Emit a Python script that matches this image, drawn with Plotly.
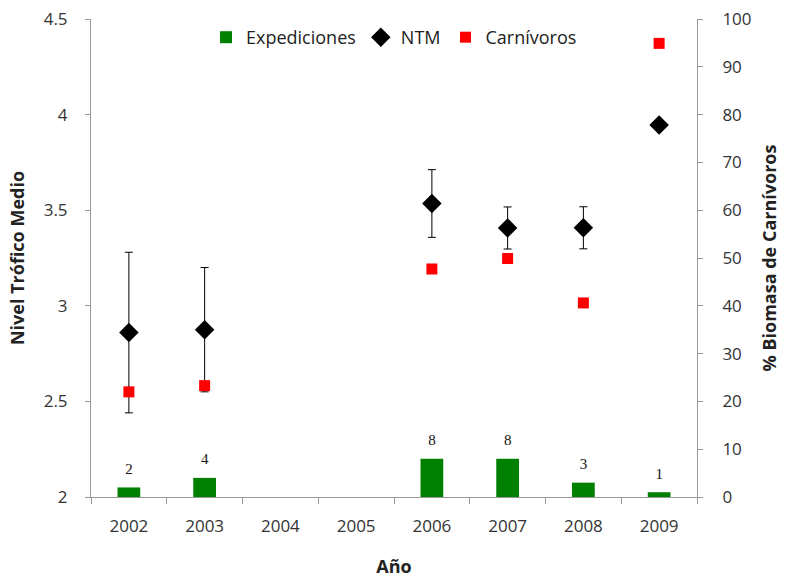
import plotly.graph_objects as go

years = ["2002", "2003", "2004", "2005", "2006", "2007", "2008", "2009"]
expediciones = [2, 4, None, None, 8, 8, 3, 1]
ntm = [2.86, 2.875, None, None, 3.535, 3.407, 3.408, 3.946]
ntm_err = [0.42, 0.325, None, None, 0.177, 0.11, 0.11, None]
carnivoros = [22.0, 23.3, None, None, 47.7, 49.9, 40.6, 94.9]

bar_text = [str(v) if v is not None else "" for v in expediciones]

fig = go.Figure()
fig.add_trace(go.Bar(
    x=years, y=expediciones, yaxis="y2", name="Expediciones",
    marker=dict(color="#008000", line=dict(width=0)), width=0.3,
))
fig.add_trace(go.Scatter(
    x=years, y=ntm, yaxis="y", name="NTM", mode="markers",
    marker=dict(symbol="diamond", size=15, color="black"),
    error_y=dict(type="data", array=[e if e is not None else 0 for e in ntm_err],
                 visible=True, color="black", thickness=1, width=4),
))
fig.add_trace(go.Scatter(
    x=years, y=carnivoros, yaxis="y2", name="Carnívoros", mode="markers",
    marker=dict(symbol="square", size=11, color="#ff0000"),
))
# bar value labels
fig.add_trace(go.Scatter(
    x=years, y=expediciones, yaxis="y2", mode="markers+text", text=bar_text,
    textposition="top center", showlegend=False, hoverinfo="skip",
    marker=dict(size=14, color="rgba(0,0,0,0)"),
    textfont=dict(family="Liberation Serif", size=15, color="#111"),
    cliponaxis=False,
))

axis_font = dict(family="Open Sans", size=17, color="#333")
title_font = dict(family="Open Sans", size=18, color="#222")
fig.update_layout(
    width=788, height=578,
    margin=dict(l=91, r=91, t=19, b=81, autoexpand=False),
    plot_bgcolor="white", paper_bgcolor="white",
    showlegend=True,
    legend=dict(orientation="h", x=0.5, xanchor="center", y=1.0, yanchor="top",
                font=dict(family="Open Sans", size=18, color="#222"),
                bgcolor="rgba(0,0,0,0)", itemwidth=30),
    xaxis=dict(type="category", categoryorder="array", categoryarray=years,
               range=[-0.5, 7.5], showline=True, linecolor="#999", linewidth=1,
               ticks="outside", tickson="boundaries", ticklen=6, tickcolor="#999",
               tickfont=axis_font, showgrid=False, ticklabelstandoff=14, automargin=False,
               title=dict(text="<b>Año</b>", font=title_font, standoff=24)),
    yaxis=dict(range=[2, 4.5], tickvals=[2, 2.5, 3, 3.5, 4, 4.5], ticktext=["2", "2.5", "3", "3.5", "4", "4.5"],
               showline=True, linecolor="#999", linewidth=1, ticks="outside", ticklen=5, tickcolor="#999",
               tickfont=axis_font, showgrid=False, zeroline=False, ticklabelstandoff=14, automargin=False,
               title=dict(text="<b>Nivel Trófico Medio</b>", font=title_font, standoff=14)),
    yaxis2=dict(range=[0, 100], tickvals=list(range(0, 101, 10)), overlaying="y", side="right",
                showline=True, linecolor="#999", linewidth=1, ticks="outside", ticklen=5, tickcolor="#999",
                tickfont=axis_font, showgrid=False, zeroline=False, ticklabelstandoff=16, automargin=False,
                title=dict(text="<b>% Biomasa de Carnívoros</b>", font=title_font, standoff=12)),
    bargap=0.7,
)
fig.write_html("out.html")
